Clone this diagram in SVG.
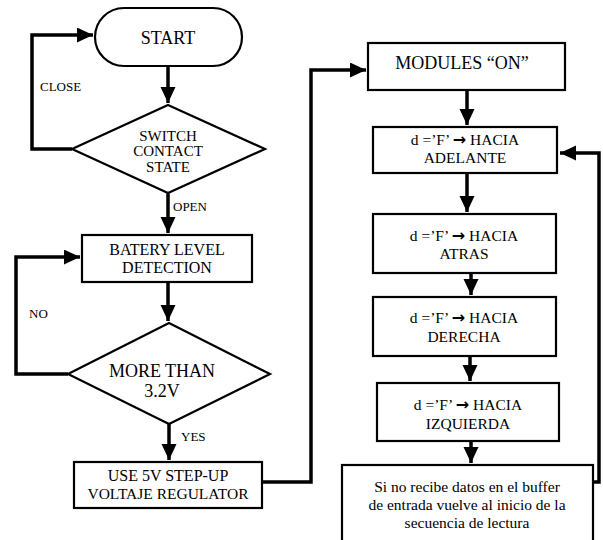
<svg xmlns="http://www.w3.org/2000/svg" width="603" height="540" viewBox="0 0 603 540">
<style>
.box{fill:#fff;stroke:#000;stroke-width:2.2}
.con{fill:none;stroke:#000;stroke-width:3.5;stroke-linejoin:miter}
text{font-family:"Liberation Serif","Times New Roman",serif;fill:#000;text-anchor:middle}
.t18{font-size:18px}
.t16{font-size:16px}
.t15{font-size:15.5px}
.t14{font-size:15px}
.lbl{font-size:13px;text-anchor:start}
.arr{font-family:"DejaVu Sans",sans-serif;font-weight:bold;font-size:16px}
</style>
<defs>
<marker id="ah" markerUnits="userSpaceOnUse" markerWidth="18" markerHeight="16" refX="16" refY="7.5" orient="auto">
<path d="M0,0 L16,7.5 L0,15 z" fill="#000"/>
</marker>
</defs>
<rect width="603" height="540" fill="#fff"/>
<g id="connectors">
<path class="con" d="M168,66 V103" marker-end="url(#ah)"/>
<path class="con" d="M72,149 H32 V35 H93" marker-end="url(#ah)"/>
<path class="con" d="M168,193 V233" marker-end="url(#ah)"/>
<path class="con" d="M168,282 V321" marker-end="url(#ah)"/>
<path class="con" d="M68,374 H16 V257 H80" marker-end="url(#ah)"/>
<path class="con" d="M169,424 V460" marker-end="url(#ah)"/>
<path class="con" d="M262,482 H311 V70 H366" marker-end="url(#ah)"/>
<path class="con" d="M467,90 V125" marker-end="url(#ah)"/>
<path class="con" d="M467,173 V212" marker-end="url(#ah)"/>
<path class="con" d="M471,273 V295" marker-end="url(#ah)"/>
<path class="con" d="M470,356 V381" marker-end="url(#ah)"/>
<path class="con" d="M471,441 V463" marker-end="url(#ah)"/>
<path class="con" d="M593,482 H599 V153 H560" marker-end="url(#ah)"/>
<text class="lbl" x="40" y="90.5">CLOSE</text>
<text class="lbl" x="173" y="210.5">OPEN</text>
<text class="lbl" x="29" y="317.5">NO</text>
<text class="lbl" x="181" y="440.5">YES</text>
</g>
<g id="start">
<rect class="box" x="95" y="8" width="147" height="58" rx="29"/>
<text class="t18" x="168" y="44">START</text>
</g>
<g id="switch">
<polygon class="box" points="168,105 265,149 168,193 72,149"/>
<text class="t14" x="168" y="140.5">SWITCH</text>
<text class="t14" x="168" y="156">CONTACT</text>
<text class="t14" x="168" y="171.5">STATE</text>
</g>
<g id="battery">
<rect class="box" x="82" y="235" width="170" height="47"/>
<text class="t16" x="167" y="254.5">BATERY LEVEL</text>
<text class="t16" x="167" y="272.5">DETECTION</text>
</g>
<g id="morethan">
<polygon class="box" points="169,323 270,374 169,424 68,374"/>
<text class="t18" x="162" y="377">MORE THAN</text>
<text class="t18" x="162" y="397">3.2V</text>
</g>
<g id="regulator">
<rect class="box" x="74" y="462" width="188" height="46"/>
<text class="t16" x="168" y="480.5">USE 5V STEP-UP</text>
<text class="t15" x="168" y="498.5">VOLTAJE REGULATOR</text>
</g>
<g id="modules">
<rect class="box" x="368" y="43" width="197" height="47"/>
<text class="t18" x="462" y="69">MODULES “ON”</text>
</g>
<g id="adelante">
<rect class="box" x="373" y="127" width="184" height="46"/>
<text class="t15" x="465" y="144.5">d =’F’ <tspan class="arr">→</tspan> HACIA</text>
<text class="t15" x="465" y="162.5">ADELANTE</text>
</g>
<g id="atras">
<rect class="box" x="373" y="214" width="183" height="59"/>
<text class="t15" x="464" y="240.5">d =’F’ <tspan class="arr">→</tspan> HACIA</text>
<text class="t15" x="464" y="258.5">ATRAS</text>
</g>
<g id="derecha">
<rect class="box" x="373" y="297" width="183" height="59"/>
<text class="t15" x="464" y="322.5">d =’F’ <tspan class="arr">→</tspan> HACIA</text>
<text class="t15" x="464" y="341.5">DERECHA</text>
</g>
<g id="izquierda">
<rect class="box" x="377" y="383" width="182" height="58"/>
<text class="t15" x="468" y="409.5">d =’F’ <tspan class="arr">→</tspan> HACIA</text>
<text class="t15" x="468" y="428.5">IZQUIERDA</text>
</g>
<g id="buffer">
<rect class="box" x="342" y="465" width="251" height="90"/>
<text class="t15" x="467" y="492">Si no recibe datos en el buffer</text>
<text class="t15" x="467" y="510">de entrada vuelve al inicio de la</text>
<text class="t15" x="467" y="528">secuencia de lectura</text>
</g>
</svg>
